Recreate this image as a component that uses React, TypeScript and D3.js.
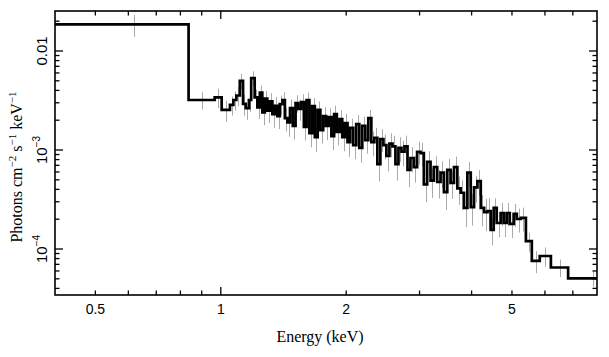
import React from "react";
import * as d3 from "d3";

// Spectrum bins (keV edges), flux (photons cm^-2 s^-1 keV^-1), relative errors
const binEdges = [
  0.4, 0.837, 0.967, 1.005, 1.052, 1.072, 1.09, 1.111, 1.131, 1.148, 1.17, 1.183, 1.206,
  1.224, 1.241, 1.258, 1.276, 1.293, 1.312, 1.33, 1.349, 1.367, 1.386, 1.406, 1.425, 1.445, 1.466,
  1.489, 1.512, 1.535, 1.559, 1.583, 1.607, 1.632, 1.657, 1.682, 1.708, 1.734, 1.761, 1.788, 1.815,
  1.843, 1.871, 1.899, 1.928, 1.957, 1.986, 2.015, 2.045,
  2.079, 2.114, 2.15, 2.186, 2.223, 2.26, 2.298, 2.337, 2.376, 2.416, 2.457, 2.498, 2.54, 2.583,
  2.626, 2.67, 2.715, 2.761, 2.807, 2.853,
  2.906, 2.96, 3.016, 3.072, 3.129, 3.188, 3.247, 3.308, 3.37, 3.433, 3.497, 3.562, 3.629, 3.697,
  3.766, 3.836, 3.908, 3.981, 4.055, 4.131, 4.208, 4.287, 4.367, 4.446,
  4.52, 4.596, 4.7, 4.778, 4.858, 4.94, 5.05, 5.135, 5.25, 5.4,
  5.58, 5.83, 6.2, 6.82, 8.84,
];

const fluxValues = [
  0.01853, 3.2e-3, 3.4e-3, 2.54e-3, 2.85e-3, 3.2e-3, 3.55e-3, 4.98e-3, 2.92e-3, 2.65e-3, 3.2e-3, 5.33e-3,
  3.4e-3, 2.7e-3, 3.8e-3, 2.4e-3, 3.3e-3, 2.5e-3, 3.1e-3, 2.3e-3, 2.8e-3, 2.2e-3, 2.9e-3, 3.2e-3, 2.1e-3, 1.9e-3,
  2.65e-3, 1.75e-3, 2.98e-3, 2.6e-3, 3.05e-3, 1.71e-3, 3.2e-3, 1.48e-3, 2.78e-3, 1.35e-3, 2.54e-3,
  1.59e-3, 2.2e-3, 1.75e-3, 2.15e-3, 1.38e-3, 2.3e-3, 1.52e-3, 2.05e-3, 1.35e-3, 1.87e-3, 1.2e-3,
  1.67e-3, 1.12e-3, 1.83e-3, 1.05e-3, 1.75e-3, 1.26e-3, 2.1e-3, 1.2e-3, 1.33e-3, 7.2e-4,
  1.29e-3, 1.12e-3, 8.7e-4, 1.16e-3, 1.09e-3, 7.2e-4, 1.05e-3, 9.6e-4, 1.09e-3, 6.3e-4,
  8.3e-4, 6.7e-4, 9.6e-4, 9.3e-4, 4.5e-4, 7.6e-4, 4.9e-4, 6.7e-4, 4.75e-4, 5.9e-4, 3.75e-4, 6.3e-4,
  4.65e-4, 6.7e-4, 4.1e-4, 3.7e-4, 2.6e-4, 5.9e-4, 2.65e-4, 4.2e-4, 4.85e-4, 2.6e-4, 2.36e-4, 2.42e-4,
  1.56e-4, 2.6e-4, 1.83e-4, 2.31e-4, 1.83e-4, 2.31e-4, 1.79e-4, 2.26e-4, 2.01e-4, 2.06e-4,
  1.2e-4, 7.6e-5, 8.5e-5, 6.5e-5, 5.06e-5,
];

const relErrors = [
  0.25, 0.2, 0.22, 0.24, 0.22, 0.22, 0.22, 0.18, 0.24, 0.24, 0.24, 0.17,
  0.2, 0.24, 0.18, 0.26, 0.2, 0.25, 0.21, 0.27, 0.22, 0.26, 0.22, 0.2, 0.27, 0.28,
  0.22, 0.27, 0.2, 0.24, 0.2, 0.27, 0.19, 0.28, 0.21, 0.29, 0.22, 0.27, 0.23, 0.28, 0.23, 0.28,
  0.22, 0.27, 0.23, 0.28, 0.24, 0.29,
  0.24, 0.28, 0.23, 0.29, 0.24, 0.27, 0.21, 0.28, 0.26, 0.33, 0.26, 0.28, 0.3, 0.27, 0.28, 0.32,
  0.28, 0.29, 0.28, 0.33,
  0.28, 0.3, 0.26, 0.27, 0.34, 0.28, 0.33, 0.29, 0.32, 0.3, 0.34, 0.29, 0.31, 0.28, 0.32, 0.33,
  0.36, 0.28, 0.35, 0.3, 0.29, 0.35, 0.36, 0.35,
  0.3, 0.25, 0.28, 0.26, 0.28, 0.26, 0.28, 0.26, 0.27, 0.27,
  0.22, 0.25, 0.22, 0.2, 0.18,
];

const xMajorTicks = [1];
const xMinorTicks = [0.5, 0.6, 0.7, 0.8, 0.9, 2, 3, 4, 5, 6, 7];
const xLabelValues = [0.5, 1, 2, 5];
const xLabelTexts = ["0.5", "1", "2", "5"];

const yMajorTicks = [1e-4, 1e-3, 1e-2];
const yMinorTicks = [
  4e-5, 5e-5, 6e-5, 7e-5, 8e-5, 9e-5,
  2e-4, 3e-4, 4e-4, 5e-4, 6e-4, 7e-4, 8e-4, 9e-4,
  2e-3, 3e-3, 4e-3, 5e-3, 6e-3, 7e-3, 8e-3, 9e-3,
  2e-2,
];
const yLabelValues = [1e-2, 1e-3, 1e-4];
const yLabelBase = ["0.01", "10", "10"];
const yLabelExp = ["", "\u22123", "\u22124"];

const xDomain = [0.4, 8];
const yDomain = [3.43e-5, 0.02535];

const W = 609;
const H = 357;
const L = 55;
const R = 597;
const T = 11;
const B = 295;

const SANS = "'Liberation Sans', Arial, Helvetica, sans-serif";
const SERIF = "'Liberation Serif', 'Times New Roman', Times, serif";

export default function App() {
  const x = d3.scaleLog().domain(xDomain).range([L, R]);
  const y = d3.scaleLog().domain(yDomain).range([B, T]);

  const n = fluxValues.length;
  const pts: [number, number][] = fluxValues.map((v, i) => [binEdges[i], v]);
  pts.push([binEdges[n], fluxValues[n - 1]]);
  const line = d3
    .line<[number, number]>()
    .x((d) => x(d[0]))
    .y((d) => y(d[1]))
    .curve(d3.curveStepAfter);
  const stepPath = line(pts) || "";

  const majLen = 8;
  const minLen = 4.5;

  return (
    <svg
      width={W}
      height={H}
      style={{ position: "absolute", left: 0, top: 0, background: "#fff" }}
    >
      <defs>
        <clipPath id="plotClip">
          <rect x={L} y={T} width={R - L} height={B - T} />
        </clipPath>
      </defs>
      <rect x={0} y={0} width={W} height={H} fill="#fff" />

      <g clipPath="url(#plotClip)">
        {fluxValues.map((v, i) => {
          const c = (binEdges[i] + binEdges[i + 1]) / 2;
          const e = v * relErrors[i];
          const xc = Math.round(x(c)) + 0.5;
          return (
            <line
              key={"e" + i}
              x1={xc}
              x2={xc}
              y1={y(v + e)}
              y2={y(Math.max(v - e, 1e-7))}
              stroke="#aaaaaa"
              strokeWidth={1}
            />
          );
        })}
        <path d={stepPath} fill="none" stroke="#000" strokeWidth={2.7} strokeLinejoin="miter" />
      </g>

      {/* frame */}
      <rect x={L} y={T} width={R - L} height={B - T} fill="none" stroke="#000" strokeWidth={1.6} />

      {/* x ticks bottom & top */}
      {xMajorTicks.concat(xMinorTicks).map((t, i) => {
        const len = xMajorTicks.includes(t) ? majLen : minLen;
        const xx = x(t);
        return (
          <g key={"xt" + i}>
            <line x1={xx} x2={xx} y1={B} y2={B - len} stroke="#000" strokeWidth={1.3} />
            <line x1={xx} x2={xx} y1={T} y2={T + len} stroke="#000" strokeWidth={1.3} />
          </g>
        );
      })}

      {/* y ticks left & right */}
      {yMajorTicks.concat(yMinorTicks).map((t, i) => {
        const len = yMajorTicks.includes(t) ? majLen : minLen;
        const yy = y(t);
        return (
          <g key={"yt" + i}>
            <line x1={L} x2={L + len} y1={yy} y2={yy} stroke="#000" strokeWidth={1.3} />
            <line x1={R} x2={R - len} y1={yy} y2={yy} stroke="#000" strokeWidth={1.3} />
          </g>
        );
      })}

      {/* x tick labels */}
      {xLabelValues.map((v, i) => (
        <text
          key={"xl" + i}
          x={x(v)}
          y={313.5}
          textAnchor="middle"
          fontFamily={SANS}
          fontSize={14}
          fill="#000"
        >
          {xLabelTexts[i]}
        </text>
      ))}

      {/* y tick labels (rotated) */}
      {yLabelValues.map((v, i) => (
        <text
          key={"yl" + i}
          transform={`translate(46.5,${y(v)}) rotate(-90)`}
          textAnchor="middle"
          fontFamily={SANS}
          fontSize={15}
          fill="#000"
        >
          {yLabelBase[i]}
          {yLabelExp[i] ? (
            <tspan fontSize={10} dy={-7}>
              {yLabelExp[i]}
            </tspan>
          ) : null}
        </text>
      ))}

      {/* axis titles */}
      <text x={320} y={342} textAnchor="middle" fontFamily={SERIF} fontSize={16} fill="#000">
        Energy (keV)
      </text>
      <text
        transform={`translate(22,167) rotate(-90)`}
        textAnchor="middle"
        fontFamily={SERIF}
        fontSize={16}
        fill="#000"
      >
        <tspan>Photons cm</tspan>
        <tspan fontSize={11} dy={-6}>{"\u22122"}</tspan>
        <tspan dy={6}> s</tspan>
        <tspan fontSize={11} dy={-6}>{"\u22121"}</tspan>
        <tspan dy={6}> keV</tspan>
        <tspan fontSize={11} dy={-6}>{"\u22121"}</tspan>
      </text>
    </svg>
  );
}
